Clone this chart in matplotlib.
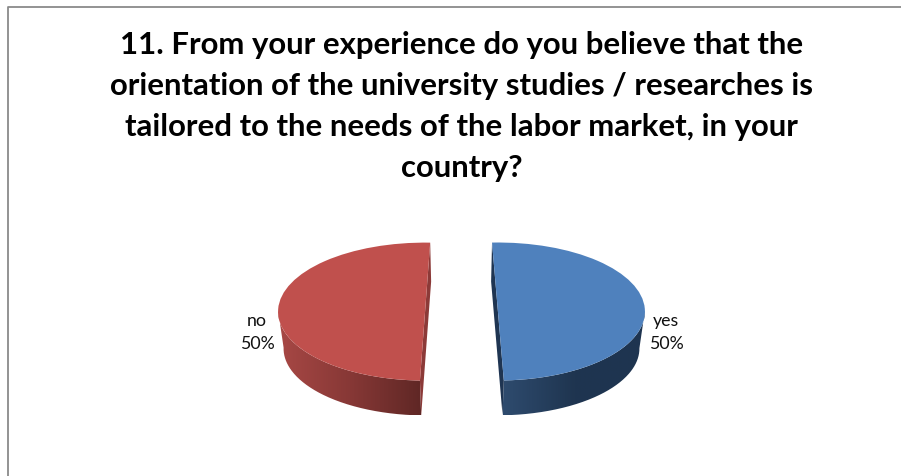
import numpy as np
import matplotlib
matplotlib.use("Agg")
import matplotlib.pyplot as plt
from matplotlib.colors import LinearSegmentedColormap
from matplotlib.lines import Line2D
from matplotlib.patches import PathPatch, Polygon
from matplotlib.path import Path

title_lines = ["11. From your experience do you believe that the",
               "orientation of the university studies / researches is",
               "tailored to the needs of the labor market, in your",
               "country?"]
categories = ["yes", "no"]
values = [50, 50]
start_angles = [92.3, 268.0]
top_colors = ["#4F81BD", "#C0504D"]
wall_stops = [["#2E4B6E", "#1F3550", "#1E3450"], ["#A84845", "#873836", "#5F2725"]]
face_colors = ["#1F3552", "#8C3A38"]

W, H = 901, 477
fig = plt.figure(figsize=(W / 100, H / 100), dpi=100, facecolor="white")

RX, RY = 147.0, 69.0
CX, CY = 461.5, 313.2
PAD = 45
ax = fig.add_axes([(CX - 1.25 * RX) / W, 1 - (CY + 1.25 * RY + PAD) / H,
                   2.5 * RX / W, (2.5 * RY + 2 * PAD) / H])
depth, shrink = 0.535, 0.97
xlim = (-1.25, 1.25)
ylim = (-1.25 - PAD / RY, 1.25 + PAD / RY)


def bottom(p):
    p = np.asarray(p, float)
    return np.column_stack([p[:, 0] * shrink, p[:, 1] * shrink - depth])


for i, (v, start) in enumerate(zip(values, start_angles)):
    w = ax.pie([v / 100], explode=[0.248], startangle=start, counterclock=False, normalize=False,
               colors=[top_colors[i]], wedgeprops=dict(linewidth=0, zorder=5))[0][0]
    cx, cy = w.center
    a, b = sorted((w.theta1, w.theta2))
    # Visible outer wall: the lower half of the rim of the slice
    angs = np.linspace(a, b, 400)
    angs = angs[np.sin(np.deg2rad(angs)) <= 0.02]
    t = np.deg2rad(angs)
    rim = np.column_stack([cx + np.cos(t), cy + np.sin(t)])
    poly = np.vstack([rim, bottom(rim)[::-1]])
    cmap = LinearSegmentedColormap.from_list("wall", wall_stops[i])
    im = ax.imshow(np.linspace(0, 1, 256)[None, :], cmap=cmap, aspect="auto", zorder=2,
                   extent=(poly[:, 0].min(), poly[:, 0].max(), poly[:, 1].min(), poly[:, 1].max()))
    im.set_clip_path(PathPatch(Path(poly, closed=False), transform=ax.transData))
    # Cut face of the slice, between the top edge and its extruded copy
    t0, t1 = np.deg2rad([w.theta1, w.theta2])
    ends = np.array([[cx + np.cos(t0), cy + np.sin(t0)], [cx + np.cos(t1), cy + np.sin(t1)]])
    ax.add_patch(Polygon(np.vstack([ends, bottom(ends)[::-1]]), closed=True,
                         facecolor=face_colors[i], edgecolor="none", zorder=3))
ax.set_xlim(xlim)
ax.set_ylim(ylim)
ax.set_aspect("auto")


def px(x, y, s, **kw):
    fig.text(x / W, 1 - y / H, s, **kw)


for line, y in zip(title_lines, [45, 86, 127, 168]):
    px(461.5, y, line, family="Lato", fontweight="bold", fontsize=22.45, color="#000000",
       ha="center", va="center")

for name, v, x in zip(categories, values, [666, 257]):
    px(x, 332.5, f"{name}\n{v}%", family="Lato", fontsize=12.8, color="#111111",
       ha="center", va="center", linespacing=1.5)

fig.add_artist(Line2D([8 / W, 8 / W, 1], [0, 1 - 8 / H, 1 - 8 / H], color="#8A8A8A", lw=1.3))
fig.savefig("out.png", dpi=100, facecolor="white")
